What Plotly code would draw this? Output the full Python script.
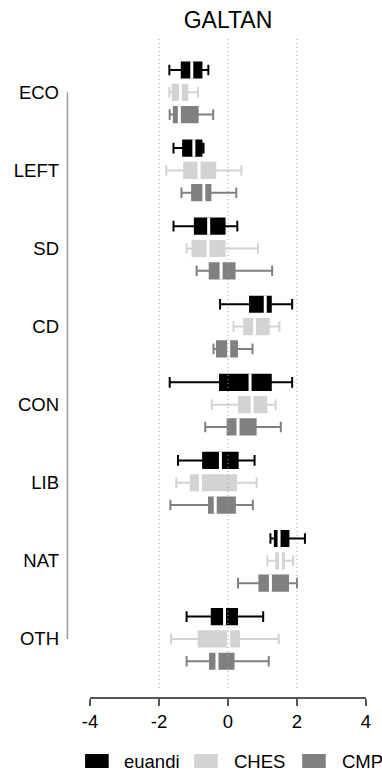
import plotly.graph_objects as go

# Party families (one group of three boxes each) and the three data sources
groups = ["ECO", "LEFT", "SD", "CD", "CON", "LIB", "NAT", "OTH"]
sources = ["euandi", "CHES", "CMP"]

# Five-number summaries of GALTAN positions, in the order of `groups`
euandi_low = [-1.70, -1.58, -1.58, -0.23, -1.69, -1.45, 1.23, -1.20]
euandi_q1 = [-1.34, -1.30, -0.96, 0.64, -0.23, -0.72, 1.36, -0.47]
euandi_med = [-1.05, -0.99, -0.56, 1.08, 0.64, -0.22, 1.48, -0.10]
euandi_q3 = [-0.77, -0.77, -0.10, 1.24, 1.24, 0.28, 1.75, 0.26]
euandi_high = [-0.57, -0.71, 0.27, 1.86, 1.86, 0.77, 2.23, 1.02]

ches_low = [-1.70, -1.79, -1.20, 0.16, -0.47, -1.50, 1.14, -1.65]
ches_q1 = [-1.60, -1.27, -1.03, 0.47, 0.32, -1.08, 1.40, -0.85]
ches_med = [-1.38, -0.84, -0.58, 0.77, 0.70, -0.80, 1.52, 0.02]
ches_q3 = [-1.18, -0.37, -0.10, 1.18, 1.11, 0.23, 1.62, 0.32]
ches_high = [-0.87, 0.39, 0.87, 1.49, 1.38, 0.83, 1.89, 1.47]

cmp_low = [-1.69, -1.35, -0.91, -0.42, -0.66, -1.67, 0.29, -1.20]
cmp_q1 = [-1.57, -1.04, -0.53, -0.32, -0.01, -0.55, 0.91, -0.52]
cmp_med = [-1.41, -0.70, -0.20, 0.02, 0.29, -0.37, 1.23, -0.32]
cmp_q3 = [-0.88, -0.51, 0.19, 0.26, 0.80, 0.20, 1.74, 0.16]
cmp_high = [-0.43, 0.24, 1.28, 0.71, 1.53, 0.72, 2.00, 1.18]

x_ticks = [-4, -2, 0, 2, 4]
grid_vals = [-2, 0, 2]

stats = {
    "euandi": (euandi_low, euandi_q1, euandi_med, euandi_q3, euandi_high),
    "CHES": (ches_low, ches_q1, ches_med, ches_q3, ches_high),
    "CMP": (cmp_low, cmp_q1, cmp_med, cmp_q3, cmp_high),
}
colors = {"euandi": "#000000", "CHES": "#d3d3d3", "CMP": "#808080"}

FONT = "Liberation Sans, Arial, sans-serif"
LABEL_SIZE = 18.5
W, H = 382, 775
ML, MR, MT, MB = 90, 11, 37, 78
PW, PH = W - ML - MR, H - MT - MB

GROUP_STEP = 3.5
BOX_W = 0.68
PX_PER_UNIT = 22.31


def pos(g, i):
    return GROUP_STEP * g + i


def px_x(px):
    return (px - ML) / PW


def px_y(py):
    return (H - MB - py) / PH


fig = go.Figure()

for i, src in enumerate(sources):
    low, q1, med, q3, high = stats[src]
    ys = [pos(g, i) for g in range(len(groups))]
    fig.add_trace(go.Box(
        y=ys, q1=q1, median=med, q3=q3, lowerfence=low, upperfence=high,
        orientation="h", name=src, width=BOX_W, whiskerwidth=0.7,
        fillcolor=colors[src], line=dict(color=colors[src], width=2),
        boxpoints=False, showlegend=False, hoverinfo="skip",
    ))
    # white median bars drawn over each box
    mx, my = [], []
    for m, y in zip(med, ys):
        mx += [m, m, None]
        my += [y - BOX_W / 2 - 0.05, y + BOX_W / 2 + 0.05, None]
    fig.add_trace(go.Scatter(
        x=mx, y=my, mode="lines", line=dict(color="white", width=3),
        showlegend=False, hoverinfo="skip",
    ))

shapes = []
# dotted reference lines
for v in grid_vals:
    shapes.append(dict(type="line", xref="x", yref="paper", x0=v, x1=v,
                       y0=px_y(688), y1=1,
                       line=dict(color="#a0a0a0", width=1, dash="1px,3px")))
# group axis line spanning the first to last group label
shapes.append(dict(type="line", xref="paper", yref="y",
                   x0=px_x(67), x1=px_x(67),
                   y0=pos(0, 1), y1=pos(len(groups) - 1, 1),
                   line=dict(color="#9a9a9a", width=1.5)))

# legend keys
legend_x = [(85, 123), (196, 235), (306, 345)]
annotations = []
for src, (rx, tx) in zip(sources, legend_x):
    shapes.append(dict(type="rect", xref="paper", yref="paper",
                       x0=px_x(rx), x1=px_x(rx + 24),
                       y0=px_y(768), y1=px_y(754),
                       fillcolor=colors[src], line=dict(width=0)))
    annotations.append(dict(text=src, xref="paper", yref="paper",
                            x=px_x(tx), y=px_y(761), xanchor="left",
                            yanchor="middle", showarrow=False,
                            font=dict(family=FONT, size=LABEL_SIZE, color="#000000")))

fig.update_layout(
    width=W, height=H,
    margin=dict(l=ML, r=MR, t=MT, b=MB, pad=0),
    paper_bgcolor="white", plot_bgcolor="white",
    boxmode="overlay",
    title=dict(text="GALTAN", x=0.5, xref="paper", xanchor="center",
               y=1 - 20 / H, yref="container", yanchor="middle",
               font=dict(family=FONT, size=23, color="#000000")),
    xaxis=dict(range=[-4, 4], tickvals=x_ticks, ticktext=[str(t) for t in x_ticks],
               showline=True, linecolor="#555555", linewidth=1.5,
               ticks="outside", ticklen=7, tickwidth=1.5, tickcolor="#555555",
               showgrid=False, zeroline=False,
               tickfont=dict(family=FONT, size=LABEL_SIZE, color="#000000")),
    yaxis=dict(range=[(H - MB - 70) / PX_PER_UNIT, (MT - 70) / PX_PER_UNIT],
               tickvals=[pos(g, 1) for g in range(len(groups))], ticktext=groups,
               showline=False, ticks="", showgrid=False, zeroline=False,
               ticklabelstandoff=30,
               tickfont=dict(family=FONT, size=LABEL_SIZE, color="#000000")),
    shapes=shapes,
    annotations=annotations,
    showlegend=False,
)

fig.write_html("out.html")
